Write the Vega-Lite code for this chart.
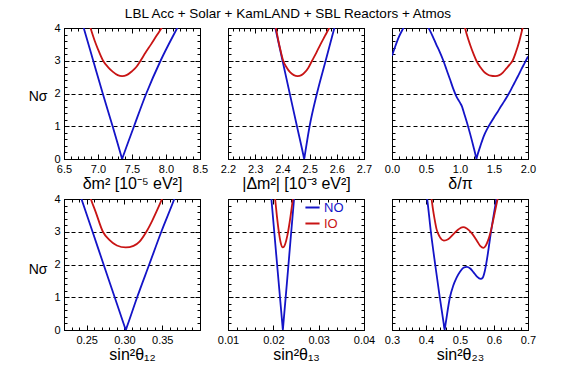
{
"$schema": "https://vega.github.io/schema/vega-lite/v6.json",
"padding": {"left": 27, "top": 7, "right": 5, "bottom": 5},
"title": {"text": "LBL Acc + Solar + KamLAND + SBL Reactors + Atmos", "anchor": "middle", "fontSize": 13.5, "fontWeight": "normal", "font": "Liberation Sans", "color": "black", "offset": 1, "dx": 6},
"config": {
  "font": "Liberation Sans",
  "view": {"stroke": "black", "strokeWidth": 1},
  "axis": {"domain": false, "grid": false, "ticks": true, "zindex": 1, "tickColor": "black", "tickOpacity": 1, "tickWidth": 1, "tickSize": 5, "offset": -5, "labelColor": "black", "labelFont": "Liberation Sans", "labelFontSize": 11, "labelPadding": 4, "labelFlush": false, "labelOverlap": false, "titleFont": "Liberation Sans", "titleColor": "black", "titleFontWeight": "normal", "titleFontSize": 16, "titlePadding": 1}
},
"datasets": {
  "p1": [
    {"x": 6.75, "n": 4.28, "o": "NO"}, {"x": 6.79, "n": 4.0, "o": "NO"}, {"x": 6.93, "n": 3.0, "o": "NO"}, {"x": 7.07, "n": 2.0, "o": "NO"}, {"x": 7.215, "n": 1.0, "o": "NO"}, {"x": 7.345, "n": 0.07, "o": "NO"}, {"x": 7.355, "n": 0, "o": "NO"}, {"x": 7.365, "n": 0.06, "o": "NO"}, {"x": 7.53, "n": 1.0, "o": "NO"}, {"x": 7.71, "n": 2.0, "o": "NO"}, {"x": 7.92, "n": 3.0, "o": "NO"}, {"x": 8.165, "n": 4.0, "o": "NO"}, {"x": 8.22, "n": 4.22, "o": "NO"},
    {"x": 6.86, "n": 4.2, "o": "IO"}, {"x": 6.89, "n": 4.0, "o": "IO"}, {"x": 6.95, "n": 3.62, "o": "IO"}, {"x": 7.0, "n": 3.35, "o": "IO"}, {"x": 7.075, "n": 3.0, "o": "IO"}, {"x": 7.15, "n": 2.8, "o": "IO"}, {"x": 7.22, "n": 2.66, "o": "IO"}, {"x": 7.29, "n": 2.56, "o": "IO"}, {"x": 7.355, "n": 2.53, "o": "IO"}, {"x": 7.42, "n": 2.56, "o": "IO"}, {"x": 7.5, "n": 2.68, "o": "IO"}, {"x": 7.56, "n": 2.8, "o": "IO"}, {"x": 7.625, "n": 3.0, "o": "IO"}, {"x": 7.7, "n": 3.25, "o": "IO"}, {"x": 7.78, "n": 3.5, "o": "IO"}, {"x": 7.86, "n": 3.76, "o": "IO"}, {"x": 7.935, "n": 4.0, "o": "IO"}, {"x": 7.98, "n": 4.15, "o": "IO"}
  ],
  "p2": [
    {"x": 2.368, "n": 4.22, "o": "NO"}, {"x": 2.374, "n": 4.0, "o": "NO"}, {"x": 2.4005, "n": 3.0, "o": "NO"}, {"x": 2.427, "n": 2.0, "o": "NO"}, {"x": 2.4535, "n": 1.0, "o": "NO"}, {"x": 2.477, "n": 0.12, "o": "NO"}, {"x": 2.48, "n": 0, "o": "NO"}, {"x": 2.483, "n": 0.15, "o": "NO"}, {"x": 2.5, "n": 1.0, "o": "NO"}, {"x": 2.527, "n": 2.0, "o": "NO"}, {"x": 2.559, "n": 3.0, "o": "NO"}, {"x": 2.591, "n": 4.0, "o": "NO"}, {"x": 2.598, "n": 4.22, "o": "NO"},
    {"x": 2.37, "n": 4.25, "o": "IO"}, {"x": 2.376, "n": 4.0, "o": "IO"}, {"x": 2.385, "n": 3.62, "o": "IO"}, {"x": 2.393, "n": 3.32, "o": "IO"}, {"x": 2.403, "n": 3.0, "o": "IO"}, {"x": 2.415, "n": 2.8, "o": "IO"}, {"x": 2.428, "n": 2.65, "o": "IO"}, {"x": 2.442, "n": 2.56, "o": "IO"}, {"x": 2.456, "n": 2.53, "o": "IO"}, {"x": 2.47, "n": 2.56, "o": "IO"}, {"x": 2.483, "n": 2.65, "o": "IO"}, {"x": 2.495, "n": 2.78, "o": "IO"}, {"x": 2.509, "n": 3.0, "o": "IO"}, {"x": 2.525, "n": 3.25, "o": "IO"}, {"x": 2.54, "n": 3.5, "o": "IO"}, {"x": 2.556, "n": 3.75, "o": "IO"}, {"x": 2.572, "n": 4.0, "o": "IO"}, {"x": 2.58, "n": 4.13, "o": "IO"}
  ],
  "p3": [
    {"x": 0.0, "n": 3.15, "o": "NO"}, {"x": 0.05, "n": 3.45, "o": "NO"}, {"x": 0.1, "n": 3.72, "o": "NO"}, {"x": 0.15, "n": 3.93, "o": "NO"}, {"x": 0.2, "n": 4.1, "o": "NO"}, {"x": 0.35, "n": 4.35, "o": "NO"}, {"x": 0.5, "n": 4.12, "o": "NO"}, {"x": 0.55, "n": 3.95, "o": "NO"}, {"x": 0.6, "n": 3.74, "o": "NO"}, {"x": 0.65, "n": 3.5, "o": "NO"}, {"x": 0.7, "n": 3.28, "o": "NO"}, {"x": 0.75, "n": 3.03, "o": "NO"}, {"x": 0.8, "n": 2.74, "o": "NO"}, {"x": 0.85, "n": 2.45, "o": "NO"}, {"x": 0.9, "n": 2.15, "o": "NO"}, {"x": 0.95, "n": 1.9, "o": "NO"}, {"x": 1.0, "n": 1.72, "o": "NO"}, {"x": 1.03, "n": 1.6, "o": "NO"}, {"x": 1.06, "n": 1.4, "o": "NO"}, {"x": 1.1, "n": 1.13, "o": "NO"}, {"x": 1.15, "n": 0.76, "o": "NO"}, {"x": 1.2, "n": 0.36, "o": "NO"}, {"x": 1.236, "n": 0.05, "o": "NO"}, {"x": 1.241, "n": 0, "o": "NO"}, {"x": 1.246, "n": 0.04, "o": "NO"}, {"x": 1.3, "n": 0.4, "o": "NO"}, {"x": 1.35, "n": 0.7, "o": "NO"}, {"x": 1.4, "n": 0.92, "o": "NO"}, {"x": 1.45, "n": 1.1, "o": "NO"}, {"x": 1.5, "n": 1.27, "o": "NO"}, {"x": 1.55, "n": 1.43, "o": "NO"}, {"x": 1.6, "n": 1.6, "o": "NO"}, {"x": 1.65, "n": 1.76, "o": "NO"}, {"x": 1.7, "n": 1.93, "o": "NO"}, {"x": 1.75, "n": 2.12, "o": "NO"}, {"x": 1.8, "n": 2.32, "o": "NO"}, {"x": 1.85, "n": 2.52, "o": "NO"}, {"x": 1.9, "n": 2.73, "o": "NO"}, {"x": 1.95, "n": 2.93, "o": "NO"}, {"x": 2.0, "n": 3.13, "o": "NO"},
    {"x": 1.06, "n": 4.1, "o": "IO"}, {"x": 1.074, "n": 4.0, "o": "IO"}, {"x": 1.1, "n": 3.8, "o": "IO"}, {"x": 1.15, "n": 3.48, "o": "IO"}, {"x": 1.2, "n": 3.2, "o": "IO"}, {"x": 1.241, "n": 3.0, "o": "IO"}, {"x": 1.3, "n": 2.8, "o": "IO"}, {"x": 1.35, "n": 2.67, "o": "IO"}, {"x": 1.4, "n": 2.59, "o": "IO"}, {"x": 1.45, "n": 2.545, "o": "IO"}, {"x": 1.517, "n": 2.53, "o": "IO"}, {"x": 1.58, "n": 2.56, "o": "IO"}, {"x": 1.63, "n": 2.64, "o": "IO"}, {"x": 1.68, "n": 2.76, "o": "IO"}, {"x": 1.73, "n": 2.88, "o": "IO"}, {"x": 1.773, "n": 3.0, "o": "IO"}, {"x": 1.82, "n": 3.25, "o": "IO"}, {"x": 1.87, "n": 3.58, "o": "IO"}, {"x": 1.921, "n": 4.0, "o": "IO"}, {"x": 1.94, "n": 4.15, "o": "IO"}
  ],
  "p4": [
    {"x": 0.2395, "n": 4.25, "o": "NO"}, {"x": 0.2431, "n": 4.0, "o": "NO"}, {"x": 0.2578, "n": 3.0, "o": "NO"}, {"x": 0.2724, "n": 2.0, "o": "NO"}, {"x": 0.2871, "n": 1.0, "o": "NO"}, {"x": 0.3004, "n": 0.09, "o": "NO"}, {"x": 0.3017, "n": 0, "o": "NO"}, {"x": 0.303, "n": 0.08, "o": "NO"}, {"x": 0.3168, "n": 1.0, "o": "NO"}, {"x": 0.3328, "n": 2.0, "o": "NO"}, {"x": 0.3488, "n": 3.0, "o": "NO"}, {"x": 0.366, "n": 4.0, "o": "NO"}, {"x": 0.37, "n": 4.25, "o": "NO"},
    {"x": 0.252, "n": 4.25, "o": "IO"}, {"x": 0.2555, "n": 4.0, "o": "IO"}, {"x": 0.262, "n": 3.6, "o": "IO"}, {"x": 0.2715, "n": 3.0, "o": "IO"}, {"x": 0.28, "n": 2.75, "o": "IO"}, {"x": 0.29, "n": 2.58, "o": "IO"}, {"x": 0.3017, "n": 2.52, "o": "IO"}, {"x": 0.312, "n": 2.57, "o": "IO"}, {"x": 0.32, "n": 2.7, "o": "IO"}, {"x": 0.329, "n": 3.0, "o": "IO"}, {"x": 0.337, "n": 3.35, "o": "IO"}, {"x": 0.344, "n": 3.7, "o": "IO"}, {"x": 0.3497, "n": 4.0, "o": "IO"}, {"x": 0.353, "n": 4.2, "o": "IO"}
  ],
  "p5": [
    {"x": 0.0195, "n": 4.11, "o": "NO"}, {"x": 0.01957, "n": 4.0, "o": "NO"}, {"x": 0.02083, "n": 2.0, "o": "NO"}, {"x": 0.02203, "n": 0.11, "o": "NO"}, {"x": 0.0221, "n": 0, "o": "NO"}, {"x": 0.02217, "n": 0.11, "o": "NO"}, {"x": 0.02334, "n": 2.0, "o": "NO"}, {"x": 0.02457, "n": 4.0, "o": "NO"}, {"x": 0.0247, "n": 4.2, "o": "NO"},
    {"x": 0.0202, "n": 4.28, "o": "IO"}, {"x": 0.0204, "n": 4.0, "o": "IO"}, {"x": 0.0208, "n": 3.46, "o": "IO"}, {"x": 0.0212, "n": 3.01, "o": "IO"}, {"x": 0.0216, "n": 2.68, "o": "IO"}, {"x": 0.0221, "n": 2.52, "o": "IO"}, {"x": 0.0226, "n": 2.62, "o": "IO"}, {"x": 0.0231, "n": 2.89, "o": "IO"}, {"x": 0.0236, "n": 3.29, "o": "IO"}, {"x": 0.0241, "n": 3.78, "o": "IO"}, {"x": 0.0245, "n": 4.22, "o": "IO"}
  ],
  "p6": [
    {"x": 0.398, "n": 4.35, "o": "NO"}, {"x": 0.4034, "n": 4.0, "o": "NO"}, {"x": 0.4143, "n": 3.0, "o": "NO"}, {"x": 0.427, "n": 2.0, "o": "NO"}, {"x": 0.4405, "n": 1.0, "o": "NO"}, {"x": 0.452, "n": 0.2, "o": "NO"}, {"x": 0.4547, "n": 0, "o": "NO"}, {"x": 0.4575, "n": 0.18, "o": "NO"}, {"x": 0.4704, "n": 1.0, "o": "NO"}, {"x": 0.48, "n": 1.35, "o": "NO"}, {"x": 0.49, "n": 1.6, "o": "NO"}, {"x": 0.5, "n": 1.78, "o": "NO"}, {"x": 0.51, "n": 1.9, "o": "NO"}, {"x": 0.52, "n": 1.93, "o": "NO"}, {"x": 0.53, "n": 1.88, "o": "NO"}, {"x": 0.54, "n": 1.76, "o": "NO"}, {"x": 0.55, "n": 1.63, "o": "NO"}, {"x": 0.561, "n": 1.56, "o": "NO"}, {"x": 0.567, "n": 1.6, "o": "NO"}, {"x": 0.573, "n": 1.8, "o": "NO"}, {"x": 0.58, "n": 2.2, "o": "NO"}, {"x": 0.585, "n": 2.55, "o": "NO"}, {"x": 0.59, "n": 2.92, "o": "NO"}, {"x": 0.595, "n": 3.25, "o": "NO"}, {"x": 0.6, "n": 3.57, "o": "NO"}, {"x": 0.605, "n": 3.87, "o": "NO"}, {"x": 0.61, "n": 4.18, "o": "NO"},
    {"x": 0.412, "n": 4.35, "o": "IO"}, {"x": 0.4163, "n": 4.0, "o": "IO"}, {"x": 0.42, "n": 3.72, "o": "IO"}, {"x": 0.425, "n": 3.4, "o": "IO"}, {"x": 0.431, "n": 3.08, "o": "IO"}, {"x": 0.44, "n": 2.85, "o": "IO"}, {"x": 0.4527, "n": 2.73, "o": "IO"}, {"x": 0.465, "n": 2.77, "o": "IO"}, {"x": 0.48, "n": 2.92, "o": "IO"}, {"x": 0.495, "n": 3.07, "o": "IO"}, {"x": 0.509, "n": 3.14, "o": "IO"}, {"x": 0.52, "n": 3.1, "o": "IO"}, {"x": 0.535, "n": 2.95, "o": "IO"}, {"x": 0.55, "n": 2.72, "o": "IO"}, {"x": 0.56, "n": 2.56, "o": "IO"}, {"x": 0.569, "n": 2.51, "o": "IO"}, {"x": 0.576, "n": 2.58, "o": "IO"}, {"x": 0.582, "n": 2.72, "o": "IO"}, {"x": 0.587, "n": 2.88, "o": "IO"}, {"x": 0.592, "n": 3.08, "o": "IO"}, {"x": 0.597, "n": 3.32, "o": "IO"}, {"x": 0.602, "n": 3.57, "o": "IO"}, {"x": 0.607, "n": 3.82, "o": "IO"}, {"x": 0.611, "n": 4.02, "o": "IO"}, {"x": 0.615, "n": 4.25, "o": "IO"}
  ]
},
"columns": 3,
"bounds": "flush",
"spacing": {"row": 40, "column": 28},
"resolve": {"legend": {"color": "independent"}},
"concat": [
{
 "width": 136, "height": 131, "data": {"name": "p1"},
 "layer": [
  {"mark": {"type": "line", "opacity": 0, "clip": true}, "encoding": {
    "x": {"field": "x", "type": "quantitative", "scale": {"domain": [6.5, 8.5]}, "axis": {"orient": "bottom", "values": [6.5,6.6,6.7,6.8,6.9,7.0,7.1,7.2,7.3,7.4,7.5,7.6,7.7,7.8,7.9,8.0,8.1,8.2,8.3,8.4,8.5], "labels": false, "title": null, "tickSize": 3, "offset": -3}},
    "y": {"field": "n", "type": "quantitative", "scale": {"domain": [0, 4]}, "axis": {"orient": "left", "values": [1,2,3], "grid": true, "gridDash": [4,3], "gridColor": "black", "gridWidth": 1, "ticks": false, "labels": false, "title": null, "offset": 0, "zindex": 0}}}},
  {"mark": {"type": "line", "opacity": 0, "clip": true}, "encoding": {
    "x": {"field": "x", "type": "quantitative", "scale": {"domain": [6.5, 8.5]}, "axis": {"orient": "top", "values": [6.5,7.0,7.5,8.0,8.5], "labels": false, "title": null}},
    "y": {"field": "n", "type": "quantitative", "scale": {"domain": [0, 4]}, "axis": {"orient": "left", "values": [0,1,2,3,4], "format": "d", "title": "Nσ", "titleAngle": 0, "titleAlign": "right", "titleBaseline": "middle", "titleX": -22, "titleY": 68, "titleFontSize": 14}}}},
  {"mark": {"type": "line", "opacity": 0, "clip": true}, "encoding": {
    "x": {"field": "x", "type": "quantitative", "scale": {"domain": [6.5, 8.5]}, "axis": {"orient": "top", "values": [6.5,6.6,6.7,6.8,6.9,7.0,7.1,7.2,7.3,7.4,7.5,7.6,7.7,7.8,7.9,8.0,8.1,8.2,8.3,8.4,8.5], "labels": false, "title": null, "tickSize": 3, "offset": -3}},
    "y": {"field": "n", "type": "quantitative", "scale": {"domain": [0, 4]}, "axis": {"orient": "left", "values": [0,0.2,0.4,0.6,0.8,1,1.2,1.4,1.6,1.8,2,2.2,2.4,2.6,2.8,3,3.2,3.4,3.6,3.8,4], "labels": false, "title": null, "tickSize": 3, "offset": -3}}}},
  {"mark": {"type": "line", "opacity": 0, "clip": true}, "encoding": {
    "x": {"field": "x", "type": "quantitative", "scale": {"domain": [6.5, 8.5]}, "axis": null},
    "y": {"field": "n", "type": "quantitative", "scale": {"domain": [0, 4]}, "axis": {"orient": "right", "values": [0,0.2,0.4,0.6,0.8,1,1.2,1.4,1.6,1.8,2,2.2,2.4,2.6,2.8,3,3.2,3.4,3.6,3.8,4], "labels": false, "title": null, "tickSize": 3, "offset": -3}}}},
  {"mark": {"type": "line", "clip": true, "strokeWidth": 1.8, "interpolate": "monotone"}, "encoding": {
    "x": {"field": "x", "type": "quantitative", "scale": {"domain": [6.5, 8.5]}, "axis": {"orient": "bottom", "values": [6.5,7.0,7.5,8.0,8.5], "format": ".1f", "title": "δm² [10⁻⁵ eV²]"}},
    "y": {"field": "n", "type": "quantitative", "scale": {"domain": [0, 4]}, "axis": {"orient": "right", "values": [0,1,2,3,4], "labels": false, "title": null}},
    "color": {"field": "o", "type": "nominal", "scale": {"domain": ["NO", "IO"], "range": ["#1414c8", "#c81414"]}, "legend": null}}}
 ],
 "resolve": {"axis": {"x": "independent", "y": "independent"}}
},
{
 "width": 136, "height": 131, "data": {"name": "p2"},
 "layer": [
  {"mark": {"type": "line", "opacity": 0, "clip": true}, "encoding": {
    "x": {"field": "x", "type": "quantitative", "scale": {"domain": [2.2, 2.7]}, "axis": {"orient": "bottom", "values": [2.2,2.22,2.24,2.26,2.28,2.3,2.32,2.34,2.36,2.38,2.4,2.42,2.44,2.46,2.48,2.5,2.52,2.54,2.56,2.58,2.6,2.62,2.64,2.66,2.68,2.7], "labels": false, "title": null, "tickSize": 3, "offset": -3}},
    "y": {"field": "n", "type": "quantitative", "scale": {"domain": [0, 4]}, "axis": {"orient": "left", "values": [1,2,3], "grid": true, "gridDash": [4,3], "gridColor": "black", "gridWidth": 1, "ticks": false, "labels": false, "title": null, "offset": 0, "zindex": 0}}}},
  {"mark": {"type": "line", "opacity": 0, "clip": true}, "encoding": {
    "x": {"field": "x", "type": "quantitative", "scale": {"domain": [2.2, 2.7]}, "axis": {"orient": "top", "values": [2.2,2.3,2.4,2.5,2.6,2.7], "labels": false, "title": null}},
    "y": {"field": "n", "type": "quantitative", "scale": {"domain": [0, 4]}, "axis": {"orient": "left", "values": [0,1,2,3,4], "labels": false, "title": null}}}},
  {"mark": {"type": "line", "opacity": 0, "clip": true}, "encoding": {
    "x": {"field": "x", "type": "quantitative", "scale": {"domain": [2.2, 2.7]}, "axis": {"orient": "top", "values": [2.2,2.22,2.24,2.26,2.28,2.3,2.32,2.34,2.36,2.38,2.4,2.42,2.44,2.46,2.48,2.5,2.52,2.54,2.56,2.58,2.6,2.62,2.64,2.66,2.68,2.7], "labels": false, "title": null, "tickSize": 3, "offset": -3}},
    "y": {"field": "n", "type": "quantitative", "scale": {"domain": [0, 4]}, "axis": {"orient": "left", "values": [0,0.2,0.4,0.6,0.8,1,1.2,1.4,1.6,1.8,2,2.2,2.4,2.6,2.8,3,3.2,3.4,3.6,3.8,4], "labels": false, "title": null, "tickSize": 3, "offset": -3}}}},
  {"mark": {"type": "line", "opacity": 0, "clip": true}, "encoding": {
    "x": {"field": "x", "type": "quantitative", "scale": {"domain": [2.2, 2.7]}, "axis": null},
    "y": {"field": "n", "type": "quantitative", "scale": {"domain": [0, 4]}, "axis": {"orient": "right", "values": [0,0.2,0.4,0.6,0.8,1,1.2,1.4,1.6,1.8,2,2.2,2.4,2.6,2.8,3,3.2,3.4,3.6,3.8,4], "labels": false, "title": null, "tickSize": 3, "offset": -3}}}},
  {"mark": {"type": "line", "clip": true, "strokeWidth": 1.8, "interpolate": "monotone"}, "encoding": {
    "x": {"field": "x", "type": "quantitative", "scale": {"domain": [2.2, 2.7]}, "axis": {"orient": "bottom", "values": [2.2,2.3,2.4,2.5,2.6,2.7], "format": ".1f", "title": "|Δm²| [10⁻³ eV²]"}},
    "y": {"field": "n", "type": "quantitative", "scale": {"domain": [0, 4]}, "axis": {"orient": "right", "values": [0,1,2,3,4], "labels": false, "title": null}},
    "color": {"field": "o", "type": "nominal", "scale": {"domain": ["NO", "IO"], "range": ["#1414c8", "#c81414"]}, "legend": null}}}
 ],
 "resolve": {"axis": {"x": "independent", "y": "independent"}}
},
{
 "width": 136, "height": 131, "data": {"name": "p3"},
 "layer": [
  {"mark": {"type": "line", "opacity": 0, "clip": true}, "encoding": {
    "x": {"field": "x", "type": "quantitative", "scale": {"domain": [0, 2]}, "axis": {"orient": "bottom", "values": [0,0.1,0.2,0.3,0.4,0.5,0.6,0.7,0.8,0.9,1.0,1.1,1.2,1.3,1.4,1.5,1.6,1.7,1.8,1.9,2.0], "labels": false, "title": null, "tickSize": 3, "offset": -3}},
    "y": {"field": "n", "type": "quantitative", "scale": {"domain": [0, 4]}, "axis": {"orient": "left", "values": [1,2,3], "grid": true, "gridDash": [4,3], "gridColor": "black", "gridWidth": 1, "ticks": false, "labels": false, "title": null, "offset": 0, "zindex": 0}}}},
  {"mark": {"type": "line", "opacity": 0, "clip": true}, "encoding": {
    "x": {"field": "x", "type": "quantitative", "scale": {"domain": [0, 2]}, "axis": {"orient": "top", "values": [0,0.5,1,1.5,2], "labels": false, "title": null}},
    "y": {"field": "n", "type": "quantitative", "scale": {"domain": [0, 4]}, "axis": {"orient": "left", "values": [0,1,2,3,4], "labels": false, "title": null}}}},
  {"mark": {"type": "line", "opacity": 0, "clip": true}, "encoding": {
    "x": {"field": "x", "type": "quantitative", "scale": {"domain": [0, 2]}, "axis": {"orient": "top", "values": [0,0.1,0.2,0.3,0.4,0.5,0.6,0.7,0.8,0.9,1.0,1.1,1.2,1.3,1.4,1.5,1.6,1.7,1.8,1.9,2.0], "labels": false, "title": null, "tickSize": 3, "offset": -3}},
    "y": {"field": "n", "type": "quantitative", "scale": {"domain": [0, 4]}, "axis": {"orient": "left", "values": [0,0.2,0.4,0.6,0.8,1,1.2,1.4,1.6,1.8,2,2.2,2.4,2.6,2.8,3,3.2,3.4,3.6,3.8,4], "labels": false, "title": null, "tickSize": 3, "offset": -3}}}},
  {"mark": {"type": "line", "opacity": 0, "clip": true}, "encoding": {
    "x": {"field": "x", "type": "quantitative", "scale": {"domain": [0, 2]}, "axis": null},
    "y": {"field": "n", "type": "quantitative", "scale": {"domain": [0, 4]}, "axis": {"orient": "right", "values": [0,0.2,0.4,0.6,0.8,1,1.2,1.4,1.6,1.8,2,2.2,2.4,2.6,2.8,3,3.2,3.4,3.6,3.8,4], "labels": false, "title": null, "tickSize": 3, "offset": -3}}}},
  {"mark": {"type": "line", "clip": true, "strokeWidth": 1.8, "interpolate": "monotone"}, "encoding": {
    "x": {"field": "x", "type": "quantitative", "scale": {"domain": [0, 2]}, "axis": {"orient": "bottom", "values": [0,0.5,1,1.5,2], "format": ".1f", "title": "δ/π"}},
    "y": {"field": "n", "type": "quantitative", "scale": {"domain": [0, 4]}, "axis": {"orient": "right", "values": [0,1,2,3,4], "labels": false, "title": null}},
    "color": {"field": "o", "type": "nominal", "scale": {"domain": ["NO", "IO"], "range": ["#1414c8", "#c81414"]}, "legend": null}}}
 ],
 "resolve": {"axis": {"x": "independent", "y": "independent"}}
},
{
 "width": 136, "height": 131, "data": {"name": "p4"},
 "layer": [
  {"mark": {"type": "line", "opacity": 0, "clip": true}, "encoding": {
    "x": {"field": "x", "type": "quantitative", "scale": {"domain": [0.22, 0.4]}, "axis": {"orient": "bottom", "values": [0.22,0.23,0.24,0.25,0.26,0.27,0.28,0.29,0.3,0.31,0.32,0.33,0.34,0.35,0.36,0.37,0.38,0.39,0.4], "labels": false, "title": null, "tickSize": 3, "offset": -3}},
    "y": {"field": "n", "type": "quantitative", "scale": {"domain": [0, 4]}, "axis": {"orient": "left", "values": [1,2,3], "grid": true, "gridDash": [4,3], "gridColor": "black", "gridWidth": 1, "ticks": false, "labels": false, "title": null, "offset": 0, "zindex": 0}}}},
  {"mark": {"type": "line", "opacity": 0, "clip": true}, "encoding": {
    "x": {"field": "x", "type": "quantitative", "scale": {"domain": [0.22, 0.4]}, "axis": {"orient": "top", "values": [0.25,0.3,0.35], "labels": false, "title": null}},
    "y": {"field": "n", "type": "quantitative", "scale": {"domain": [0, 4]}, "axis": {"orient": "left", "values": [0,1,2,3,4], "format": "d", "title": "Nσ", "titleAngle": 0, "titleAlign": "right", "titleBaseline": "middle", "titleX": -22, "titleY": 70, "titleFontSize": 14}}}},
  {"mark": {"type": "line", "opacity": 0, "clip": true}, "encoding": {
    "x": {"field": "x", "type": "quantitative", "scale": {"domain": [0.22, 0.4]}, "axis": {"orient": "top", "values": [0.22,0.23,0.24,0.25,0.26,0.27,0.28,0.29,0.3,0.31,0.32,0.33,0.34,0.35,0.36,0.37,0.38,0.39,0.4], "labels": false, "title": null, "tickSize": 3, "offset": -3}},
    "y": {"field": "n", "type": "quantitative", "scale": {"domain": [0, 4]}, "axis": {"orient": "left", "values": [0,0.2,0.4,0.6,0.8,1,1.2,1.4,1.6,1.8,2,2.2,2.4,2.6,2.8,3,3.2,3.4,3.6,3.8,4], "labels": false, "title": null, "tickSize": 3, "offset": -3}}}},
  {"mark": {"type": "line", "opacity": 0, "clip": true}, "encoding": {
    "x": {"field": "x", "type": "quantitative", "scale": {"domain": [0.22, 0.4]}, "axis": null},
    "y": {"field": "n", "type": "quantitative", "scale": {"domain": [0, 4]}, "axis": {"orient": "right", "values": [0,0.2,0.4,0.6,0.8,1,1.2,1.4,1.6,1.8,2,2.2,2.4,2.6,2.8,3,3.2,3.4,3.6,3.8,4], "labels": false, "title": null, "tickSize": 3, "offset": -3}}}},
  {"mark": {"type": "line", "clip": true, "strokeWidth": 1.8, "interpolate": "monotone"}, "encoding": {
    "x": {"field": "x", "type": "quantitative", "scale": {"domain": [0.22, 0.4]}, "axis": {"orient": "bottom", "values": [0.25,0.3,0.35], "format": ".2f", "title": "sin²θ₁₂"}},
    "y": {"field": "n", "type": "quantitative", "scale": {"domain": [0, 4]}, "axis": {"orient": "right", "values": [0,1,2,3,4], "labels": false, "title": null}},
    "color": {"field": "o", "type": "nominal", "scale": {"domain": ["NO", "IO"], "range": ["#1414c8", "#c81414"]}, "legend": null}}}
 ],
 "resolve": {"axis": {"x": "independent", "y": "independent"}}
},
{
 "width": 136, "height": 131, "data": {"name": "p5"},
 "layer": [
  {"mark": {"type": "line", "opacity": 0, "clip": true}, "encoding": {
    "x": {"field": "x", "type": "quantitative", "scale": {"domain": [0.01, 0.04]}, "axis": {"orient": "bottom", "values": [0.01,0.012,0.014,0.016,0.018,0.02,0.022,0.024,0.026,0.028,0.03,0.032,0.034,0.036,0.038,0.04], "labels": false, "title": null, "tickSize": 3, "offset": -3}},
    "y": {"field": "n", "type": "quantitative", "scale": {"domain": [0, 4]}, "axis": {"orient": "left", "values": [1,2,3], "grid": true, "gridDash": [4,3], "gridColor": "black", "gridWidth": 1, "ticks": false, "labels": false, "title": null, "offset": 0, "zindex": 0}}}},
  {"mark": {"type": "line", "opacity": 0, "clip": true}, "encoding": {
    "x": {"field": "x", "type": "quantitative", "scale": {"domain": [0.01, 0.04]}, "axis": {"orient": "top", "values": [0.01,0.02,0.03,0.04], "labels": false, "title": null}},
    "y": {"field": "n", "type": "quantitative", "scale": {"domain": [0, 4]}, "axis": {"orient": "left", "values": [0,1,2,3,4], "labels": false, "title": null}}}},
  {"mark": {"type": "line", "opacity": 0, "clip": true}, "encoding": {
    "x": {"field": "x", "type": "quantitative", "scale": {"domain": [0.01, 0.04]}, "axis": {"orient": "top", "values": [0.01,0.012,0.014,0.016,0.018,0.02,0.022,0.024,0.026,0.028,0.03,0.032,0.034,0.036,0.038,0.04], "labels": false, "title": null, "tickSize": 3, "offset": -3}},
    "y": {"field": "n", "type": "quantitative", "scale": {"domain": [0, 4]}, "axis": {"orient": "left", "values": [0,0.2,0.4,0.6,0.8,1,1.2,1.4,1.6,1.8,2,2.2,2.4,2.6,2.8,3,3.2,3.4,3.6,3.8,4], "labels": false, "title": null, "tickSize": 3, "offset": -3}}}},
  {"mark": {"type": "line", "opacity": 0, "clip": true}, "encoding": {
    "x": {"field": "x", "type": "quantitative", "scale": {"domain": [0.01, 0.04]}, "axis": null},
    "y": {"field": "n", "type": "quantitative", "scale": {"domain": [0, 4]}, "axis": {"orient": "right", "values": [0,0.2,0.4,0.6,0.8,1,1.2,1.4,1.6,1.8,2,2.2,2.4,2.6,2.8,3,3.2,3.4,3.6,3.8,4], "labels": false, "title": null, "tickSize": 3, "offset": -3}}}},
  {"mark": {"type": "line", "clip": true, "strokeWidth": 1.8, "interpolate": "monotone"}, "encoding": {
    "x": {"field": "x", "type": "quantitative", "scale": {"domain": [0.01, 0.04]}, "axis": {"orient": "bottom", "values": [0.01,0.02,0.03,0.04], "format": ".2f", "title": "sin²θ₁₃"}},
    "y": {"field": "n", "type": "quantitative", "scale": {"domain": [0, 4]}, "axis": {"orient": "right", "values": [0,1,2,3,4], "labels": false, "title": null}},
    "color": {"field": "o", "type": "nominal", "scale": {"domain": ["NO", "IO"], "range": ["#1414c8", "#c81414"]}, "legend": {"orient": "none", "legendX": 76, "legendY": 0, "title": null, "symbolType": "stroke", "symbolSize": 200, "symbolStrokeWidth": 2, "labelFontSize": 13, "labelFont": "Liberation Sans", "labelOffset": 3, "rowPadding": 0, "padding": 0, "encode": {"labels": {"update": {"fill": {"signal": "datum.value === 'NO' ? '#1414c8' : '#c81414'"}}}}}}}}
 ],
 "resolve": {"axis": {"x": "independent", "y": "independent"}}
},
{
 "width": 136, "height": 131, "data": {"name": "p6"},
 "layer": [
  {"mark": {"type": "line", "opacity": 0, "clip": true}, "encoding": {
    "x": {"field": "x", "type": "quantitative", "scale": {"domain": [0.3, 0.7]}, "axis": {"orient": "bottom", "values": [0.3,0.32,0.34,0.36,0.38,0.4,0.42,0.44,0.46,0.48,0.5,0.52,0.54,0.56,0.58,0.6,0.62,0.64,0.66,0.68,0.7], "labels": false, "title": null, "tickSize": 3, "offset": -3}},
    "y": {"field": "n", "type": "quantitative", "scale": {"domain": [0, 4]}, "axis": {"orient": "left", "values": [1,2,3], "grid": true, "gridDash": [4,3], "gridColor": "black", "gridWidth": 1, "ticks": false, "labels": false, "title": null, "offset": 0, "zindex": 0}}}},
  {"mark": {"type": "line", "opacity": 0, "clip": true}, "encoding": {
    "x": {"field": "x", "type": "quantitative", "scale": {"domain": [0.3, 0.7]}, "axis": {"orient": "top", "values": [0.3,0.4,0.5,0.6,0.7], "labels": false, "title": null}},
    "y": {"field": "n", "type": "quantitative", "scale": {"domain": [0, 4]}, "axis": {"orient": "left", "values": [0,1,2,3,4], "labels": false, "title": null}}}},
  {"mark": {"type": "line", "opacity": 0, "clip": true}, "encoding": {
    "x": {"field": "x", "type": "quantitative", "scale": {"domain": [0.3, 0.7]}, "axis": {"orient": "top", "values": [0.3,0.32,0.34,0.36,0.38,0.4,0.42,0.44,0.46,0.48,0.5,0.52,0.54,0.56,0.58,0.6,0.62,0.64,0.66,0.68,0.7], "labels": false, "title": null, "tickSize": 3, "offset": -3}},
    "y": {"field": "n", "type": "quantitative", "scale": {"domain": [0, 4]}, "axis": {"orient": "left", "values": [0,0.2,0.4,0.6,0.8,1,1.2,1.4,1.6,1.8,2,2.2,2.4,2.6,2.8,3,3.2,3.4,3.6,3.8,4], "labels": false, "title": null, "tickSize": 3, "offset": -3}}}},
  {"mark": {"type": "line", "opacity": 0, "clip": true}, "encoding": {
    "x": {"field": "x", "type": "quantitative", "scale": {"domain": [0.3, 0.7]}, "axis": null},
    "y": {"field": "n", "type": "quantitative", "scale": {"domain": [0, 4]}, "axis": {"orient": "right", "values": [0,0.2,0.4,0.6,0.8,1,1.2,1.4,1.6,1.8,2,2.2,2.4,2.6,2.8,3,3.2,3.4,3.6,3.8,4], "labels": false, "title": null, "tickSize": 3, "offset": -3}}}},
  {"mark": {"type": "line", "clip": true, "strokeWidth": 1.8, "interpolate": "monotone"}, "encoding": {
    "x": {"field": "x", "type": "quantitative", "scale": {"domain": [0.3, 0.7]}, "axis": {"orient": "bottom", "values": [0.3,0.4,0.5,0.6,0.7], "format": ".1f", "title": "sin²θ₂₃"}},
    "y": {"field": "n", "type": "quantitative", "scale": {"domain": [0, 4]}, "axis": {"orient": "right", "values": [0,1,2,3,4], "labels": false, "title": null}},
    "color": {"field": "o", "type": "nominal", "scale": {"domain": ["NO", "IO"], "range": ["#1414c8", "#c81414"]}, "legend": null}}}
 ],
 "resolve": {"axis": {"x": "independent", "y": "independent"}}
}
]
}
